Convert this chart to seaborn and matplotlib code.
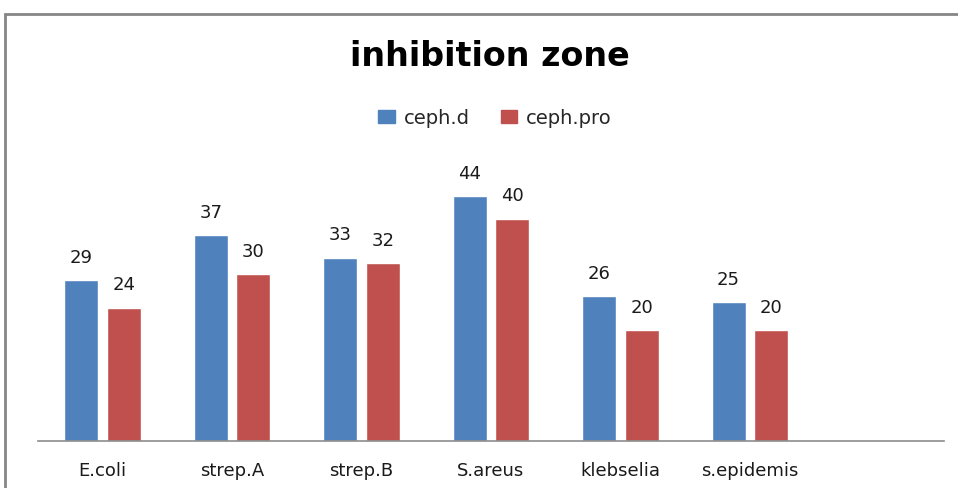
import matplotlib
matplotlib.use("Agg")
import matplotlib.pyplot as plt
import seaborn as sns
import pandas as pd
from matplotlib.patches import Rectangle

categories = ["E.coli", "strep.A", "strep.B", "S.areus", "klebselia", "s.epidemis"]
ceph_d = [29, 37, 33, 44, 26, 25]
ceph_pro = [24, 30, 32, 40, 20, 20]
series_names = ["ceph.d", "ceph.pro"]
colors = ["#4F81BD", "#C0504D"]

df = pd.DataFrame({
    "organism": categories * 2,
    "value": ceph_d + ceph_pro,
    "series": [series_names[0]] * len(categories) + [series_names[1]] * len(categories),
})

sns.set_theme(style="white")
plt.rcParams["font.family"] = ["DejaVu Sans"]

fig = plt.figure(figsize=(9.58, 4.88), dpi=100)
ax = fig.add_axes([38 / 958, (488 - 441) / 488, (944 - 38) / 958, (441 - 163) / 488])

sns.barplot(data=df, x="organism", y="value", hue="series", order=categories,
            hue_order=series_names, palette=colors, width=0.657, gap=0.2,
            saturation=1, ax=ax, legend=False)

ax.set_xlim(-0.5, 6.5)
ax.set_ylim(0, 50)
ax.set_xlabel("")
ax.set_ylabel("")
ax.set_yticks([])
for s in ["top", "right", "left"]:
    ax.spines[s].set_visible(False)
ax.spines["bottom"].set_color("#8c8c8c")
ax.spines["bottom"].set_linewidth(1.2)
ax.tick_params(axis="x", length=0, pad=15, labelsize=13, colors="#1a1a1a")

for cont in ax.containers:
    ax.bar_label(cont, padding=9.5, fontsize=13, color="#1a1a1a")

fig.text(0.511, 1 - 57 / 488, "inhibition zone", ha="center", va="center",
         fontsize=24, fontweight="bold", color="black")

handles = [Rectangle((0, 0), 1, 1, color=c) for c in colors]
fig.legend(handles, series_names, loc="center", bbox_to_anchor=(495 / 958, 1 - 118 / 488),
           ncol=2, frameon=False, fontsize=14, handlelength=0.85, handleheight=0.65,
           handletextpad=0.45, columnspacing=1.6)

# outer border
fig.add_artist(Rectangle((5 / 958, -0.1), 1.2, 1 - 14 / 488 + 0.1, transform=fig.transFigure,
                         fill=False, edgecolor="#868686", linewidth=2))

fig.savefig("out.png", dpi=100)
